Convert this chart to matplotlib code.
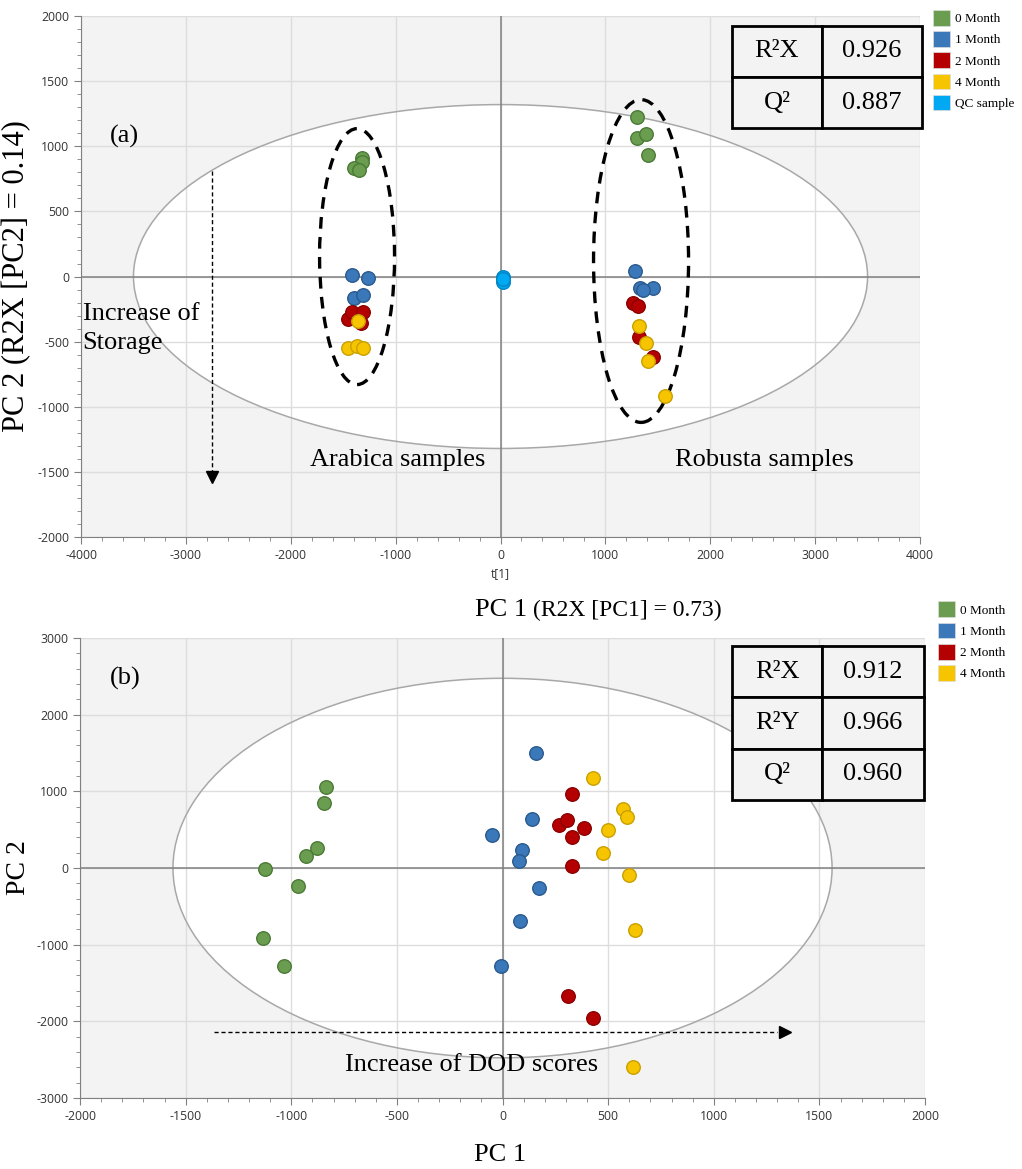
"""PCA / PLS-DA score plots for coffee storage samples"""
import matplotlib
matplotlib.use("Agg")
import matplotlib.pyplot as plt
from matplotlib.patches import Ellipse, Patch, Rectangle
from matplotlib.ticker import MultipleLocator

plt.rcParams["axes.unicode_minus"] = False

SERIF = "Liberation Serif"
SANS = "Open Sans"

# colours per storage group
groups = ["0 Month", "1 Month", "2 Month", "4 Month", "QC sample"]
face = {"0 Month": "#6a9d50", "1 Month": "#3b78b9", "2 Month": "#b40000",
        "4 Month": "#f6c500", "QC sample": "#00a9f2"}
edge = {"0 Month": "#4b7a36", "1 Month": "#2a5a8e", "2 Month": "#8c0000",
        "4 Month": "#c9a000", "QC sample": "#0087c8"}

# (a) PCA scores, t[1] / t[2]
pca_x = {
    "0 Month": [-1320, -1320, -1400, -1350, 1300, 1300, 1385, 1410],
    "1 Month": [-1420, -1260, -1400, -1310, 1280, 1330, 1450, 1360],
    "2 Month": [-1450, -1420, -1310, -1330, 1265, 1315, 1325, 1455],
    "4 Month": [-1360, -1450, -1370, -1310, 1320, 1385, 1410, 1565],
    "QC sample": [25, 25, 20],
}
pca_y = {
    "0 Month": [910, 880, 830, 815, 1225, 1060, 1095, 935],
    "1 Month": [15, -15, -165, -145, 40, -85, -85, -105],
    "2 Month": [-325, -275, -275, -360, -200, -230, -465, -620],
    "4 Month": [-345, -545, -530, -550, -380, -510, -645, -915],
    "QC sample": [-5, -40, -20],
}
pca_stats = [("R\u00b2X", "0.926"), ("Q\u00b2", "0.887")]

# (b) PLS-DA scores
pls_x = {
    "0 Month": [-836, -844, -876, -928, -1125, -967, -1133, -1033],
    "1 Month": [158, 141, -52, 90, 77, 172, 85, -8],
    "2 Month": [330, 266, 306, 385, 330, 330, 311, 429],
    "4 Month": [429, 571, 587, 500, 477, 600, 629, 619],
}
pls_y = {
    "0 Month": [1056, 851, 257, 156, -9, -235, -909, -1278],
    "1 Month": [1495, 635, 430, 230, 91, -265, -691, -1278],
    "2 Month": [969, 561, 622, 518, 408, 26, -1669, -1960],
    "4 Month": [1169, 765, 665, 495, 191, -95, -808, -2595],
}
pls_stats = [("R\u00b2X", "0.912"), ("R\u00b2Y", "0.966"), ("Q\u00b2", "0.960")]


def style_axes(ax, xlim, ylim, xmaj, xmin, ymaj, ymin, ell_w, ell_h):
    ax.set_facecolor("#f3f3f3")
    ax.set_xlim(*xlim)
    ax.set_ylim(*ylim)
    ax.xaxis.set_major_locator(MultipleLocator(xmaj))
    ax.xaxis.set_minor_locator(MultipleLocator(xmin))
    ax.yaxis.set_major_locator(MultipleLocator(ymaj))
    ax.yaxis.set_minor_locator(MultipleLocator(ymin))
    ax.add_patch(Ellipse((0, 0), ell_w, ell_h, facecolor="white",
                         edgecolor="none", zorder=0.2))
    ax.set_axisbelow("line")
    ax.grid(True, which="major", color="#dddddd", linewidth=1)
    ax.add_patch(Ellipse((0, 0), ell_w, ell_h, facecolor="none",
                         edgecolor="#a8a8a8", linewidth=1.1, zorder=1.6))
    ax.axhline(0, color="#808080", linewidth=1.1, zorder=1.7)
    ax.axvline(0, color="#808080", linewidth=1.1, zorder=1.7)
    for s in ("top", "right"):
        ax.spines[s].set_visible(False)
    for s in ("left", "bottom"):
        ax.spines[s].set_color("#808080")
    ax.tick_params(which="major", length=5, color="#808080", labelsize=8.8,
                   labelcolor="#333333")
    ax.tick_params(which="minor", length=3, color="#808080")
    for lab in ax.get_xticklabels() + ax.get_yticklabels():
        lab.set_fontfamily(SANS)


def draw_table(ax, rows, x0, x1, xdiv, y0, y1):
    n = len(rows)
    h = (y1 - y0) / n
    for i, (name, val) in enumerate(rows):
        yb = y1 - (i + 1) * h
        for xa, xb, txt in ((x0, xdiv, name), (xdiv, x1, val)):
            ax.add_patch(Rectangle((xa, yb), xb - xa, h, transform=ax.transAxes,
                                   facecolor="#f3f3f3", edgecolor="black",
                                   linewidth=2, clip_on=False, zorder=5))
            ax.text((xa + xb) / 2, yb + h / 2, txt, transform=ax.transAxes,
                    ha="center", va="center", family=SERIF, fontsize=19,
                    zorder=6)


def draw_legend(ax, names, anchor):
    handles = [Patch(facecolor=face[g], edgecolor="#dddddd", linewidth=0.5,
                     label=g) for g in names]
    ax.legend(handles=handles, loc="upper left", bbox_to_anchor=anchor,
              bbox_transform=ax.figure.transFigure, frameon=False,
              prop={"family": SERIF, "size": 9.5}, handlelength=1.3,
              handleheight=1.45, handletextpad=0.35, labelspacing=0.42,
              borderpad=0, borderaxespad=0)


fig = plt.figure(figsize=(10.22, 11.69), dpi=100)

# ---------------- (a)
ax1 = fig.add_axes([0.0793, 0.5406, 0.8209, 0.4457])
style_axes(ax1, (-4000, 4000), (-2000, 2000), 1000, 200, 500, 100, 7000, 2640)
ax1.add_patch(Ellipse((-1368, 153), 715, 1965, facecolor="none",
                      edgecolor="black", linewidth=2.4, linestyle=(0, (3.5, 2.5)),
                      zorder=3))
ax1.add_patch(Ellipse((1340, 119), 906, 2478, facecolor="none",
                      edgecolor="black", linewidth=2.4, linestyle=(0, (3.5, 2.5)),
                      zorder=3))
for g in groups:
    ax1.scatter(pca_x[g], pca_y[g], s=95, color=face[g], edgecolors=edge[g],
                linewidths=1, zorder=4)
ax1.plot([-2751, -2751], [813, -1500], color="black", linewidth=1,
         linestyle=(0, (3, 2)), zorder=3)
ax1.plot([-2751], [-1540], marker="v", color="black", markersize=8, zorder=3)
ax1.text(0.052, 0.768, "(a)", transform=ax1.transAxes, ha="center",
         va="center", family=SERIF, fontsize=19)
ax1.text(0.002, 0.400, "Increase of\nStorage", transform=ax1.transAxes,
         ha="left", va="center", family=SERIF, fontsize=19, linespacing=1.4)
ax1.text(0.378, 0.148, "Arabica samples", transform=ax1.transAxes,
         ha="center", va="center", family=SERIF, fontsize=19)
ax1.text(0.814, 0.148, "Robusta samples", transform=ax1.transAxes,
         ha="center", va="center", family=SERIF, fontsize=19)
draw_table(ax1, pca_stats, 0.776, 1.0024, 0.883, 0.785, 0.981)
draw_legend(ax1, groups, (0.913, 0.9915))
ax1.set_xlabel("t[1]", family=SANS, fontsize=8.5, color="#333333", labelpad=4)
ax1.set_ylabel("PC 2 (R2X [PC2] = 0.14)", family=SERIF, fontsize=22,
               labelpad=4)
fig.text(475 / 1022, 1 - 610 / 1169, "PC 1", ha="left", va="center",
         family=SERIF, fontsize=19)
fig.text(533 / 1022, 1 - 610 / 1169, "(R2X [PC1] = 0.73)", ha="left",
         va="center", family=SERIF, fontsize=17)

# ---------------- (b)
ax2 = fig.add_axes([0.0783, 0.0607, 0.8268, 0.3935])
style_axes(ax2, (-2000, 2000), (-3000, 3000), 500, 100, 1000, 200, 3120, 4950)
for g in groups[:4]:
    ax2.scatter(pls_x[g], pls_y[g], s=95, color=face[g], edgecolors=edge[g],
                linewidths=1, zorder=4)
ax2.plot([-1368, 1300], [-2138, -2138], color="black", linewidth=1,
         linestyle=(0, (3, 2)), zorder=3)
ax2.plot([1335], [-2138], marker=">", color="black", markersize=8, zorder=3)
ax2.text(0.053, 0.913, "(b)", transform=ax2.transAxes, ha="center",
         va="center", family=SERIF, fontsize=19)
ax2.text(0.463, 0.072, "Increase of DOD scores", transform=ax2.transAxes,
         ha="center", va="center", family=SERIF, fontsize=19)
draw_table(ax2, pls_stats, 0.7716, 0.9988, 0.878, 0.648, 0.983)
draw_legend(ax2, groups[:4], (0.918, 0.4855))
ax2.set_ylabel("PC 2", family=SERIF, fontsize=20, labelpad=4)
fig.text(500 / 1022, 1 - 1155 / 1169, "PC 1", ha="center", va="center",
         family=SERIF, fontsize=19)

fig.savefig("out.png", dpi=100)
